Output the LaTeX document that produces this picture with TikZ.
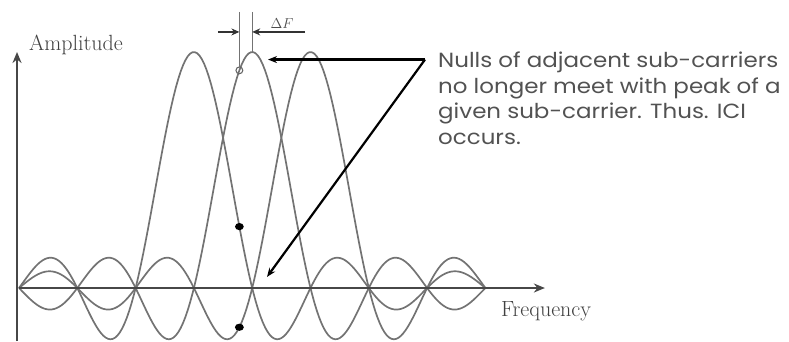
\documentclass[tikz,border=0pt]{standalone}
\usepackage{fontspec}
\newfontfamily\notefont[FakeStretch=1.12]{Poppins}
\usetikzlibrary{arrows.meta}
\tikzset{
  axis/.style={black!72, line width=1.8pt},
  carrier/.style={black!55, line width=1.7pt},
  callout/.style={black, line width=2.2pt, -{Stealth[length=9pt,width=7pt]}},
  dimline/.style={black!55, line width=1.2pt},
  label/.style={font=\fontsize{22}{25}\selectfont, text=black!75, inner sep=0pt},
}
\begin{document}
\begin{tikzpicture}[x=58.3pt, y=236pt, >={Stealth[length=11pt,width=9pt]}]
			% three sub-carriers, sinc shaped, one spacing apart; the receiver samples the middle one
			% \dF off its peak, so the neighbours are no longer at their nulls there (the two dots)
			\def\dF{0.22}
			\useasboundingbox (-19pt,-53pt) rectangle (770pt,288pt);
			\coordinate (origin) at (0,0);
			\coordinate (ybot) at (-0.034,-0.2246);
			\coordinate (ytop) at (-0.034,1.0);
			\coordinate (xend) at (9.02,0);
			\foreach \c in {3,4,5}
				\draw[carrier] plot[variable=\t, domain=0:8, samples=200] ({\t},{sin(180*(\t-\c))/(pi*(\t-\c))});
			\draw[axis, ->] (ybot) -- (ytop);
			\draw[axis, ->] (origin) -- (xend);
			\node[label] (amp) at (0.978,1.03) {Amplitude};
			\node[label] (freq) at (9.04,-0.097) {Frequency};
			% sampling point and the values of the neighbours there
			\coordinate (samp) at ({4-\dF},{sin(180*\dF)/(pi*\dF)});
			\coordinate (peak) at (4,1);
			\coordinate (lowerdot) at ({4-\dF},{sin(180*(-1-\dF))/(pi*(-1-\dF))});
			\coordinate (upperdot) at ({4-\dF},{sin(180*(1-\dF))/(pi*(1-\dF))});
			\draw[black!60, line width=1.1pt] (samp) circle (3.4pt);
			\fill (upperdot) ellipse (4.4pt and 3.6pt);
			\fill (lowerdot) ellipse (4.4pt and 3.6pt);
			% the offset \Delta F
			\coordinate (sampTop) at ({4-\dF},1.17);
			\coordinate (peakTop) at (4,1.17);
			\draw[dimline] (sampTop) -- ([yshift=3.4pt]samp);
			\draw[dimline] (peakTop) -- (peak);
			\draw[dimline, -{Stealth[length=8pt,width=7pt]}, black!80] (3.413,1.085) -- ({4-\dF},1.085);
			\draw[dimline, -{Stealth[length=8pt,width=7pt]}, black!80] (4.906,1.085) -- (4,1.085);
			\node[font=\fontsize{15}{17}\selectfont, text=black!70, inner sep=0pt] (df) at (4.51,1.119) {$\Delta F$};
			% the note and its two arrows
			\coordinate (bend) at (6.964,0.968);
			\coordinate (peakTip) at (4.271,0.968);
			\coordinate (nullTip) at (4.254,0.047);
			\draw[callout] (bend) -- (peakTip);
			\draw[callout] (bend) -- (nullTip);
			\node[anchor=north west, align=left, inner sep=0pt, text=black!68,
				font=\notefont\fontsize{20.5}{25.5}\selectfont] (note) at (7.187,1.0)
				{Nulls of adjacent sub-carriers\\no longer meet with peak of a\\given sub-carrier. Thus. ICI\\occurs.};
		\end{tikzpicture}
\end{document}
